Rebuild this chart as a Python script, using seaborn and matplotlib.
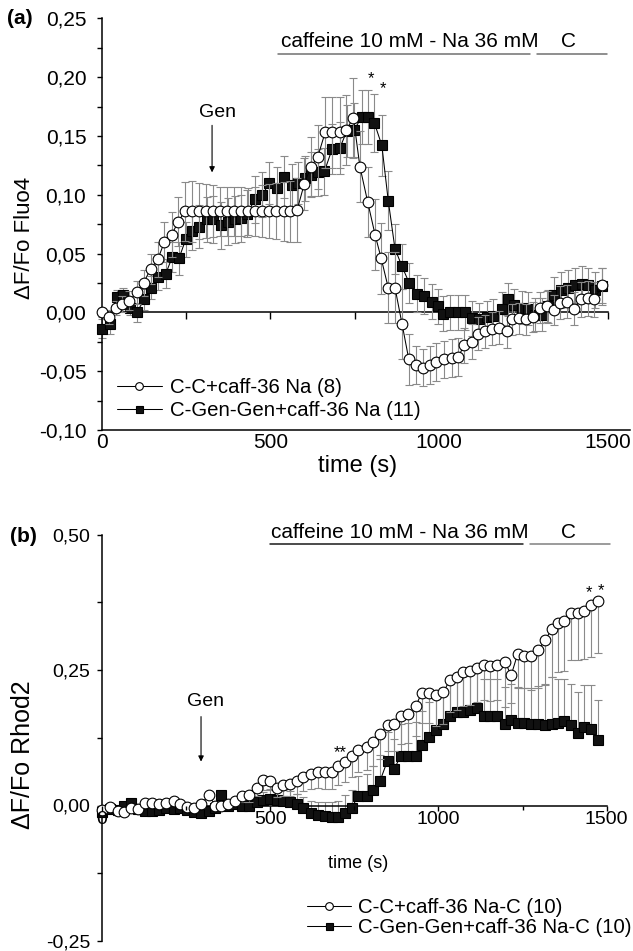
import matplotlib
matplotlib.use("Agg")
import matplotlib.pyplot as plt
import pandas as pd
import seaborn as sns
from matplotlib.ticker import MultipleLocator

# ---------------- data : panel (a) Fluo4 ----------------
time_a_cc = [0, 22, 41, 61, 82, 104, 124, 145, 166, 186, 207, 227, 246,
             267, 287, 309, 329, 351, 371, 391, 413, 433, 453, 475, 495, 517, 539, 559, 579,
             600, 620, 640, 662, 683, 705, 723, 746, 765, 788, 810, 828, 849, 869, 890, 910,
             930, 953, 972, 992, 1015, 1037, 1056, 1074, 1096, 1116, 1136, 1155, 1177,
             1200, 1215, 1235, 1256, 1279, 1299, 1319, 1339, 1358, 1380, 1400, 1420, 1440, 1460, 1482]
fluo_cc = [0.000, -0.004, 0.004, 0.007, 0.010, 0.017, 0.025, 0.037, 0.045, 0.060, 0.066, 0.077, 0.086,
           0.086, 0.086, 0.086, 0.086, 0.086, 0.086, 0.086, 0.086, 0.086, 0.086, 0.086, 0.086, 0.086, 0.086, 0.086, 0.087,
           0.109, 0.124, 0.132, 0.153, 0.153, 0.153, 0.155, 0.165, 0.124, 0.094, 0.066, 0.046, 0.021, 0.021, -0.010, -0.040,
           -0.045, -0.047, -0.045, -0.042, -0.040, -0.039, -0.038, -0.028, -0.025, -0.018, -0.016, -0.014, -0.013,
           -0.016, -0.006, -0.005, -0.006, -0.004, 0.004, 0.005, 0.002, 0.008, 0.009, 0.003, 0.011, 0.012, 0.011, 0.023]
fluo_cc_err = [0.004, 0.006, 0.006, 0.007, 0.008, 0.010, 0.011, 0.013, 0.015, 0.017, 0.019, 0.021, 0.025,
               0.026, 0.024, 0.023, 0.022, 0.021, 0.021, 0.021, 0.021, 0.020, 0.021, 0.022, 0.023, 0.024, 0.025, 0.026, 0.027,
               0.022, 0.025, 0.027, 0.030, 0.030, 0.030, 0.030, 0.034, 0.030, 0.030, 0.030, 0.030, 0.030, 0.030, 0.030, 0.022,
               0.016, 0.016, 0.016, 0.016, 0.016, 0.016, 0.016, 0.015, 0.015, 0.014, 0.014, 0.014, 0.014,
               0.014, 0.013, 0.013, 0.013, 0.013, 0.013, 0.013, 0.013, 0.014, 0.014, 0.014, 0.015, 0.015, 0.015, 0.015]

time_a_gen = [0, 25, 44, 64, 84, 104, 126, 146, 168, 190, 209, 229, 249, 267, 288, 311, 329, 353, 375, 395,
              413, 431, 454, 476, 497, 518, 540, 563, 582, 602, 620, 640, 660, 683, 706, 726, 748, 770, 790, 808,
              830, 849, 869, 890, 911, 933, 956, 978, 995, 1012, 1032, 1055, 1077, 1098, 1118, 1141, 1160, 1185, 1203, 1222,
              1244, 1264, 1285, 1305, 1322, 1341, 1361, 1383, 1403, 1423, 1442, 1462, 1482]
fluo_gen = [-0.014, -0.010, 0.013, 0.015, 0.004, 0.000, 0.011, 0.021, 0.030, 0.033,
            0.047, 0.046, 0.062, 0.069, 0.073, 0.079, 0.079, 0.074, 0.077, 0.079,
            0.080, 0.084, 0.096, 0.100, 0.110, 0.106, 0.115, 0.108, 0.110, 0.114,
            0.117, 0.119, 0.120, 0.139, 0.140, 0.154, 0.155, 0.166, 0.166, 0.161,
            0.142, 0.095, 0.054, 0.039, 0.025, 0.016, 0.014, 0.009, 0.005, -0.001,
            0.000, 0.000, 0.000, -0.005, -0.006, -0.004, -0.003, 0.003, 0.011, 0.006,
            0.004, 0.003, -0.002, -0.002, 0.005, 0.015, 0.019, 0.021, 0.023, 0.024,
            0.023, 0.019, 0.022]
fluo_gen_err = [0.008, 0.008, 0.006, 0.006, 0.006, 0.008, 0.009, 0.010, 0.011, 0.012,
                0.013, 0.014, 0.015, 0.016, 0.018, 0.019, 0.020, 0.020, 0.020, 0.020,
                0.020, 0.020, 0.020, 0.019, 0.018, 0.018, 0.018, 0.018, 0.018, 0.019,
                0.019, 0.020, 0.020, 0.021, 0.022, 0.022, 0.023, 0.023, 0.023, 0.025,
                0.026, 0.025, 0.021, 0.019, 0.017, 0.016, 0.015, 0.015, 0.015, 0.015,
                0.015, 0.015, 0.015, 0.015, 0.014, 0.014, 0.014, 0.014, 0.014, 0.014,
                0.014, 0.014, 0.014, 0.014, 0.014, 0.015, 0.015, 0.015, 0.015, 0.015,
                0.015, 0.015, 0.016]

# ---------------- data : panel (b) Rhod2 ----------------
time_b = [0, 25, 47, 67, 87, 107, 129, 150, 171, 191,
          214, 233, 252, 275, 295, 319, 336, 354, 376, 396,
          418, 437, 460, 480, 500, 520, 539, 559, 579, 599,
          622, 641, 663, 683, 703, 723, 742, 762, 787, 807,
          827, 849, 869, 889, 911, 933, 950, 972, 992, 1015,
          1034, 1054, 1074, 1094, 1114, 1134, 1153, 1173, 1198, 1216,
          1235, 1255, 1275, 1295, 1317, 1336, 1354, 1374, 1394, 1414,
          1433, 1453, 1475]
rhod_cc = [-0.009, -0.003, -0.011, -0.012, -0.004, -0.006, 0.005, 0.004, 0.002, 0.005,
           0.008, 0.002, -0.003, -0.004, 0.002, 0.020, 0.000, 0.000, 0.002, 0.009,
           0.017, 0.019, 0.033, 0.047, 0.046, 0.033, 0.037, 0.040, 0.046, 0.052,
           0.058, 0.062, 0.062, 0.062, 0.072, 0.080, 0.091, 0.102, 0.108, 0.117,
           0.132, 0.148, 0.150, 0.166, 0.168, 0.183, 0.208, 0.208, 0.203, 0.209,
           0.232, 0.237, 0.246, 0.248, 0.254, 0.259, 0.257, 0.259, 0.265, 0.240,
           0.279, 0.276, 0.275, 0.286, 0.305, 0.325, 0.337, 0.341, 0.355, 0.355,
           0.359, 0.370, 0.378]
rhod_cc_err = [0.004, 0.004, 0.004, 0.004, 0.004, 0.004, 0.004, 0.004, 0.004, 0.004,
               0.005, 0.005, 0.005, 0.005, 0.006, 0.008, 0.006, 0.006, 0.007, 0.008,
               0.010, 0.012, 0.015, 0.018, 0.018, 0.018, 0.020, 0.022, 0.024, 0.026,
               0.028, 0.030, 0.031, 0.032, 0.034, 0.036, 0.038, 0.040, 0.042, 0.044,
               0.046, 0.048, 0.050, 0.052, 0.052, 0.054, 0.055, 0.056, 0.057, 0.058,
               0.060, 0.060, 0.062, 0.062, 0.063, 0.064, 0.064, 0.065, 0.084, 0.050,
               0.060, 0.060, 0.062, 0.070, 0.080, 0.088, 0.090, 0.092, 0.087, 0.087,
               0.088, 0.096, 0.096]
rhod_gen = [-0.012, -0.006, -0.008, 0.000, 0.004, -0.006, -0.010, -0.010, -0.008, -0.005,
            -0.006, -0.004, -0.008, -0.012, -0.013, -0.010, -0.004, 0.020, 0.000, 0.002,
            -0.001, 0.000, 0.006, 0.010, 0.012, 0.010, 0.008, 0.006, 0.002, -0.004,
            -0.013, -0.017, -0.020, -0.021, -0.021, -0.013, -0.005, 0.018, 0.018, 0.028,
            0.046, 0.083, 0.068, 0.092, 0.092, 0.092, 0.111, 0.126, 0.139, 0.151,
            0.166, 0.172, 0.172, 0.177, 0.179, 0.165, 0.166, 0.166, 0.150, 0.157,
            0.153, 0.153, 0.151, 0.151, 0.148, 0.151, 0.153, 0.155, 0.148, 0.134,
            0.145, 0.142, 0.120]
rhod_gen_err = [0.004, 0.004, 0.004, 0.004, 0.004, 0.004, 0.004, 0.004, 0.004, 0.004,
                0.005, 0.005, 0.005, 0.005, 0.005, 0.005, 0.005, 0.005, 0.005, 0.005,
                0.008, 0.010, 0.012, 0.015, 0.018, 0.020, 0.020, 0.020, 0.020, 0.020,
                0.022, 0.024, 0.026, 0.028, 0.030, 0.032, 0.034, 0.036, 0.040, 0.044,
                0.048, 0.052, 0.055, 0.058, 0.060, 0.062, 0.064, 0.065, 0.066, 0.066,
                0.066, 0.066, 0.067, 0.067, 0.068, 0.068, 0.068, 0.068, 0.068, 0.068,
                0.063, 0.063, 0.065, 0.070, 0.075, 0.086, 0.080, 0.078, 0.077, 0.075,
                0.078, 0.080, 0.074]

labels_a = ["C-C+caff-36 Na (8)", "C-Gen-Gen+caff-36 Na (11)"]
labels_b = ["C-C+caff-36 Na-C (10)", "C-Gen-Gen+caff-36 Na-C (10)"]
xticks = [0, 500, 1000, 1500]
xtick_labels = ["0", "500", "1000", "1500"]
yticks_a = [-0.10, -0.05, 0.0, 0.05, 0.10, 0.15, 0.20, 0.25]
ytick_labels_a = ["-0,10", "-0,05", "0,00", "0,05", "0,10", "0,15", "0,20", "0,25"]
yticks_b = [-0.25, 0.0, 0.25, 0.50]
ytick_labels_b = ["-0,25", "0,00", "0,25", "0,50"]

# treatment bars (time spans)
caff_span_a = [522, 1269]
c_span_a = [1290, 1497]
caff_span_b = [500, 1251]
c_span_b = [1272, 1510]

# ---------------- style / layout ----------------
sns.set_theme(style="ticks", rc={"axes.edgecolor": "black", "xtick.color": "black",
                                 "ytick.color": "black", "text.color": "black",
                                 "axes.labelcolor": "black"})
plt.rcParams["font.family"] = ["Liberation Sans", "DejaVu Sans"]

W, H = 633, 951
fig = plt.figure(figsize=(W / 100, H / 100), dpi=100)

LEFT = 101.7
PXS_A, PXS_B = 0.3375, 0.3367
A_TOP, A_BOT = 18.3, 430.0
B_TOP, B_BOT = 534.5, 941.0
XMAX_A = 1565

ax_a = fig.add_axes([LEFT / W, 1 - A_BOT / H, XMAX_A * PXS_A / W, (A_BOT - A_TOP) / H])
ax_b = fig.add_axes([LEFT / W, 1 - B_BOT / H, 1500 * PXS_B / W, (B_BOT - B_TOP) / H])

ERR_COLOR = "#8a8a8a"


def draw_series(ax, t, v, yerr, marker, face, size, z):
    ax.errorbar(t, v, yerr=yerr, fmt="none", ecolor=ERR_COLOR, elinewidth=0.8,
                capsize=2.6, capthick=0.8, clip_on=False, zorder=z - 1)
    df = pd.DataFrame({"time": t, "value": v})
    sns.lineplot(data=df, x="time", y="value", ax=ax, color="black", linewidth=0.75,
                 marker=marker, markersize=size, markerfacecolor=face,
                 markeredgecolor="black", markeredgewidth=0.8, estimator=None,
                 errorbar=None, sort=False, legend=False, clip_on=False, zorder=z)
    return ax.lines[-1]


# ---------------- panel (a) ----------------
h_gen_a = draw_series(ax_a, time_a_gen, fluo_gen, fluo_gen_err, "s", "#111111", 7.0, 3)
h_cc_a = draw_series(ax_a, time_a_cc, fluo_cc, fluo_cc_err, "o", "white", 7.7, 5)

ax_a.set_xlim(0, XMAX_A)
ax_a.set_ylim(-0.10, 0.25)
ax_a.spines[["top", "right"]].set_visible(False)
for s in ["left", "bottom"]:
    ax_a.spines[s].set_linewidth(1.1)
ax_a.set_yticks(yticks_a, labels=ytick_labels_a)
ax_a.yaxis.set_minor_locator(MultipleLocator(0.025))
ax_a.tick_params(axis="y", which="both", direction="out", length=3.6, width=1.0, pad=7.5, labelsize=15)
ax_a.set_xticks(xticks, labels=xtick_labels)
ax_a.tick_params(axis="x", which="both", length=0, pad=2, labelsize=15)

# zero line with tick marks
frac0 = (0 - (-0.10)) / 0.35
sec = ax_a.secondary_xaxis(frac0)
sec.spines["top"].set_visible(False)
sec.spines["bottom"].set_bounds(0, 1500)
sec.spines["bottom"].set_linewidth(1.1)
sec.set_xticks([0, 250, 500, 750, 1000, 1250, 1500])
sec.tick_params(axis="x", direction="out", length=5, width=1.0, labelbottom=False, labeltop=False)

ax_a.set_xlabel("time (s)", fontsize=17)
ax_a.xaxis.set_label_coords((358 - LEFT) / (XMAX_A * PXS_A), (A_BOT - 466) / (A_BOT - A_TOP))
ax_a.xaxis.label.set_va("center")
ax_a.set_ylabel("\u0394F/Fo Fluo4", fontsize=16)
ax_a.yaxis.set_label_coords((24 - LEFT) / (XMAX_A * PXS_A), (A_BOT - 238) / (A_BOT - A_TOP))
ax_a.yaxis.label.set_va("center")

ax_a.plot(caff_span_a, [0.220, 0.220], color="#707070", lw=1.1, clip_on=False)
ax_a.plot(c_span_a, [0.220, 0.220], color="#707070", lw=1.1, clip_on=False)
ax_a.text(912, 0.2305, "caffeine 10 mM - Na 36 mM", fontsize=15, ha="center", va="center")
ax_a.text(1382, 0.2305, "C", fontsize=15, ha="center", va="center")

ax_a.text(342, 0.170, "Gen", fontsize=14, ha="center", va="center")
ax_a.annotate("", xy=(327, 0.119), xytext=(327, 0.159),
              arrowprops=dict(arrowstyle="-|>", color="black", lw=0.8, mutation_scale=8,
                              shrinkA=0, shrinkB=0))
ax_a.text(797, 0.1947, "*", fontsize=12, ha="center", va="baseline")
ax_a.text(834, 0.1862, "*", fontsize=12, ha="center", va="baseline")

ax_a.legend([h_cc_a, h_gen_a], labels_a, loc="center left",
            bbox_to_anchor=(116.7 / W, 1 - 399.2 / H), bbox_transform=fig.transFigure,
            frameon=False, fontsize=14.7, handlelength=2.2, handletextpad=0.4,
            labelspacing=0.2, borderpad=0, borderaxespad=0, markerscale=0.72)

# ---------------- panel (b) ----------------
zeros_b = [0.0] * len(time_b)
h_gen_b = draw_series(ax_b, time_b, rhod_gen, [zeros_b, rhod_gen_err], "s", "#111111", 7.0, 3)
h_cc_b = draw_series(ax_b, time_b, rhod_cc, [rhod_cc_err, zeros_b], "o", "white", 7.7, 5)

ax_b.set_xlim(0, 1500)
ax_b.set_ylim(-0.25, 0.50)
ax_b.spines[["top", "right"]].set_visible(False)
for s in ["left", "bottom"]:
    ax_b.spines[s].set_linewidth(1.1)
ax_b.spines["bottom"].set_position(("data", 0))
ax_b.set_xticks(xticks, labels=xtick_labels)
ax_b.xaxis.set_minor_locator(MultipleLocator(250))
ax_b.tick_params(axis="x", which="major", direction="out", length=3.5, width=1.0, pad=0.8, labelsize=14)
ax_b.tick_params(axis="x", which="minor", direction="out", length=3.0, width=1.0)
ax_b.xaxis.set_zorder(7)
ax_b.set_yticks(yticks_b, labels=ytick_labels_b)
ax_b.yaxis.set_minor_locator(MultipleLocator(0.125))
ax_b.tick_params(axis="y", which="both", direction="out", length=3.6, width=1.0, pad=4.8, labelsize=14)

ax_b.set_xlabel("time (s)", fontsize=13)
ax_b.xaxis.set_label_coords((358 - LEFT) / (1500 * PXS_B), (B_BOT - 863) / (B_BOT - B_TOP))
ax_b.xaxis.label.set_va("center")
ax_b.set_ylabel("\u0394F/Fo Rhod2", fontsize=18)
ax_b.yaxis.set_label_coords((23 - LEFT) / (1500 * PXS_B), (B_BOT - 755) / (B_BOT - B_TOP))
ax_b.yaxis.label.set_va("center")

ax_b.plot(caff_span_b, [0.483, 0.483], color="#1a1a1a", lw=1.1, clip_on=False)
ax_b.plot(c_span_b, [0.483, 0.483], color="#808080", lw=1.1, clip_on=False)
ax_b.text(886, 0.5035, "caffeine 10 mM - Na 36 mM", fontsize=15, ha="center", va="center")
ax_b.text(1385, 0.5035, "C", fontsize=15, ha="center", va="center")

ax_b.text(307, 0.192, "Gen", fontsize=14, ha="center", va="center")
ax_b.annotate("", xy=(295, 0.081), xytext=(295, 0.164),
              arrowprops=dict(arrowstyle="-|>", color="black", lw=0.8, mutation_scale=8,
                              shrinkA=0, shrinkB=0))
ax_b.text(708, 0.0886, "**", fontsize=12, ha="center", va="baseline")
ax_b.text(1448, 0.384, "*", fontsize=12, ha="center", va="baseline")
ax_b.text(1483, 0.389, "*", fontsize=12, ha="center", va="baseline")

ax_b.legend([h_cc_b, h_gen_b], labels_b, loc="center left",
            bbox_to_anchor=(306.5 / W, 1 - 917.5 / H), bbox_transform=fig.transFigure,
            frameon=False, fontsize=14.7, handlelength=2.2, handletextpad=0.3,
            labelspacing=0.05, borderpad=0, borderaxespad=0, markerscale=0.72)

fig.text(19.5 / W, 1 - 18 / H, "(a)", fontsize=15, fontweight="bold", ha="center", va="center")
fig.text(23 / W, 1 - 537 / H, "(b)", fontsize=15, fontweight="bold", ha="center", va="center")

fig.savefig("out.png", dpi=100)
